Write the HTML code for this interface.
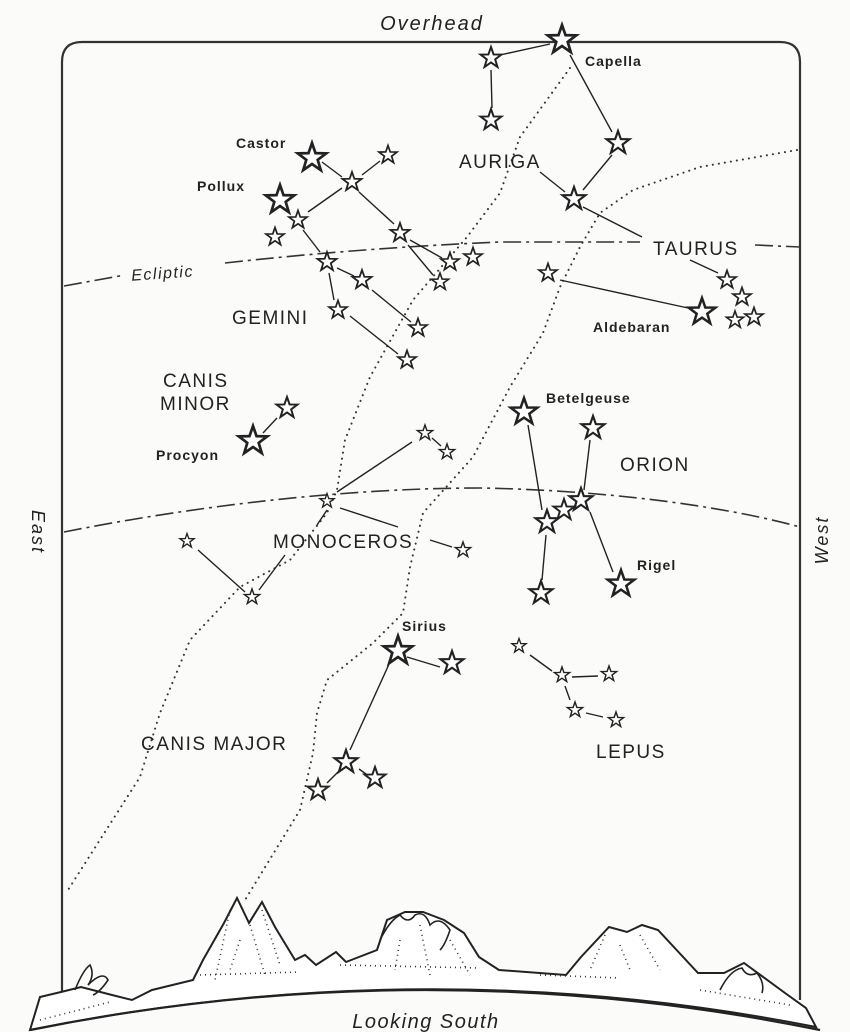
<!DOCTYPE html>
<html><head><meta charset="utf-8"><style>
html,body{margin:0;padding:0;background:#fbfbf9;}
svg{display:block}
text{font-family:"Liberation Sans",sans-serif;fill:#222;}
.l{font-size:19px;letter-spacing:1.5px}
.s{font-size:14px;letter-spacing:1px;font-weight:bold}
</style></head><body>
<svg width="850" height="1032" viewBox="0 0 850 1032" xmlns="http://www.w3.org/2000/svg">
<defs>
<path id="st" d="M0,-10 L2.35,-3.24 9.51,-3.09 3.8,1.24 5.88,8.09 0,4 -5.88,8.09 -3.8,1.24 -9.51,-3.09 -2.35,-3.24Z" fill="#fff" stroke="#222" stroke-width="1.8"/>
</defs>
<path d="M62,1000 L62,62 Q62,42 82,42 L780,42 Q800,42 800,62 L800,1000" fill="none" stroke="#333" stroke-width="2.2"/>
<g fill="none" stroke="#333" stroke-width="2" stroke-dasharray="0.1 6" stroke-linecap="round">
<path d="M570,68 L520,137 L500,193 L467,237 L413,300 L370,377 L345,440 L337,490 L327,513 L290,560 L240,587 L190,640 L160,713 L140,777 L68,890"/>
<path d="M797,150 L700,167 L633,190 L600,213 L580,247 L560,287 L543,333 L510,387 L473,457 L423,513 L410,567 L403,613 L373,643 L327,680 L317,713 L313,753 L300,810 L245,900"/>
</g>
<g fill="none" stroke="#333" stroke-width="1.6" stroke-dasharray="18 5 3 5">
<path d="M64,286 L125,275"/>
<path d="M225,263 Q360,248 500,242 L640,242"/>
<path d="M755,245 L800,247"/>
<path d="M64,532 C200,505 350,488 480,488 C600,490 720,505 800,527"/>
</g>
<g stroke="#222" stroke-width="1.4" fill="none">
<line x1="500" y1="55" x2="550" y2="44"/><line x1="491" y1="70" x2="492" y2="108"/>
<line x1="570" y1="55" x2="612" y2="132"/><line x1="612" y1="155" x2="583" y2="190"/>
<line x1="540" y1="172" x2="565" y2="192"/><line x1="583" y1="207" x2="642" y2="237"/>
<line x1="560" y1="280" x2="688" y2="308"/><line x1="690" y1="260" x2="718" y2="273"/>
<line x1="322" y1="162" x2="342" y2="177"/><line x1="362" y1="175" x2="380" y2="161"/>
<line x1="342" y1="188" x2="308" y2="212"/><line x1="359" y1="192" x2="394" y2="224"/>
<line x1="410" y1="240" x2="442" y2="258"/><line x1="408" y1="245" x2="433" y2="275"/>
<line x1="303" y1="230" x2="320" y2="252"/><line x1="337" y1="268" x2="354" y2="276"/>
<line x1="372" y1="290" x2="411" y2="322"/><line x1="329" y1="273" x2="334" y2="300"/>
<line x1="350" y1="316" x2="398" y2="354"/>
<line x1="263" y1="433" x2="277" y2="418"/>
<line x1="337" y1="492" x2="412" y2="442"/><line x1="432" y1="438" x2="441" y2="446"/>
<line x1="340" y1="508" x2="398" y2="527"/><line x1="430" y1="540" x2="452" y2="547"/>
<line x1="327" y1="510" x2="317" y2="525"/><line x1="285" y1="555" x2="259" y2="590"/>
<line x1="198" y1="550" x2="245" y2="592"/>
<line x1="528" y1="425" x2="542" y2="510"/><line x1="590" y1="440" x2="584" y2="490"/>
<line x1="590" y1="512" x2="613" y2="572"/><line x1="546" y1="535" x2="542" y2="580"/>
<line x1="407" y1="657" x2="440" y2="667"/><line x1="390" y1="662" x2="350" y2="750"/>
<line x1="340" y1="770" x2="327" y2="783"/><line x1="359" y1="769" x2="366" y2="774"/>
<line x1="530" y1="655" x2="552" y2="671"/><line x1="572" y1="677" x2="598" y2="676"/>
<line x1="565" y1="686" x2="570" y2="700"/><line x1="586" y1="713" x2="603" y2="717"/>
</g>
<g>
<use href="#st" transform="translate(562,40) scale(1.5)"/>
<use href="#st" transform="translate(491,58) scale(1.1)"/>
<use href="#st" transform="translate(491,120) scale(1.1)"/>
<use href="#st" transform="translate(618,143) scale(1.2)"/>
<use href="#st" transform="translate(574,199) scale(1.2)"/>
<use href="#st" transform="translate(548,273) scale(0.95)"/>
<use href="#st" transform="translate(702,312) scale(1.4)"/>
<use href="#st" transform="translate(727,280) scale(0.95)"/>
<use href="#st" transform="translate(742,297) scale(0.95)"/>
<use href="#st" transform="translate(735,320) scale(0.9)"/>
<use href="#st" transform="translate(754,317) scale(0.95)"/>
<use href="#st" transform="translate(312,158) scale(1.5)"/>
<use href="#st" transform="translate(388,155) scale(0.95)"/>
<use href="#st" transform="translate(352,182) scale(1.0)"/>
<use href="#st" transform="translate(280,200) scale(1.5)"/>
<use href="#st" transform="translate(298,220) scale(0.95)"/>
<use href="#st" transform="translate(275,237) scale(0.95)"/>
<use href="#st" transform="translate(400,233) scale(1.0)"/>
<use href="#st" transform="translate(327,262) scale(1.0)"/>
<use href="#st" transform="translate(362,280) scale(1.0)"/>
<use href="#st" transform="translate(450,262) scale(0.95)"/>
<use href="#st" transform="translate(473,257) scale(0.95)"/>
<use href="#st" transform="translate(440,282) scale(0.9)"/>
<use href="#st" transform="translate(338,310) scale(0.95)"/>
<use href="#st" transform="translate(418,328) scale(0.95)"/>
<use href="#st" transform="translate(407,360) scale(0.95)"/>
<use href="#st" transform="translate(287,408) scale(1.1)"/>
<use href="#st" transform="translate(253,441) scale(1.5)"/>
<use href="#st" transform="translate(425,433) scale(0.8)"/>
<use href="#st" transform="translate(447,452) scale(0.8)"/>
<use href="#st" transform="translate(327,501) scale(0.75)"/>
<use href="#st" transform="translate(187,541) scale(0.75)"/>
<use href="#st" transform="translate(252,597) scale(0.8)"/>
<use href="#st" transform="translate(463,550) scale(0.8)"/>
<use href="#st" transform="translate(524,412) scale(1.4)"/>
<use href="#st" transform="translate(593,428) scale(1.2)"/>
<use href="#st" transform="translate(581,500) scale(1.2)"/>
<use href="#st" transform="translate(564,510) scale(1.1)"/>
<use href="#st" transform="translate(547,522) scale(1.2)"/>
<use href="#st" transform="translate(541,593) scale(1.2)"/>
<use href="#st" transform="translate(621,584) scale(1.4)"/>
<use href="#st" transform="translate(398,651) scale(1.5)"/>
<use href="#st" transform="translate(452,663) scale(1.2)"/>
<use href="#st" transform="translate(346,762) scale(1.2)"/>
<use href="#st" transform="translate(375,778) scale(1.1)"/>
<use href="#st" transform="translate(318,790) scale(1.1)"/>
<use href="#st" transform="translate(519,646) scale(0.75)"/>
<use href="#st" transform="translate(562,675) scale(0.8)"/>
<use href="#st" transform="translate(609,674) scale(0.8)"/>
<use href="#st" transform="translate(575,710) scale(0.8)"/>
<use href="#st" transform="translate(616,720) scale(0.8)"/>
</g>
<text x="432" y="30" text-anchor="middle" style="font-size:20px;font-style:italic;letter-spacing:2px">Overhead</text>
<text transform="translate(32,532) rotate(90)" text-anchor="middle" style="font-size:18px;font-style:italic;letter-spacing:2px">East</text>
<text transform="translate(828,540) rotate(-90)" text-anchor="middle" style="font-size:18px;font-style:italic;letter-spacing:2px">West</text>
<text x="131" y="278" style="font-size:16px;font-style:italic;letter-spacing:1.5px" transform="rotate(-4 170 270)">Ecliptic</text>
<text class="s" x="585" y="66">Capella</text>
<text class="s" x="236" y="148">Castor</text>
<text class="s" x="197" y="191">Pollux</text>
<text class="l" x="459" y="168">AURIGA</text>
<text class="l" x="653" y="255">TAURUS</text>
<text class="s" x="593" y="332">Aldebaran</text>
<text class="l" x="232" y="324">GEMINI</text>
<text class="l" x="163" y="387">CANIS</text>
<text class="l" x="160" y="410">MINOR</text>
<text class="s" x="156" y="460">Procyon</text>
<text class="s" x="546" y="403">Betelgeuse</text>
<text class="l" x="620" y="471">ORION</text>
<text class="l" x="273" y="548">MONOCEROS</text>
<text class="s" x="637" y="570">Rigel</text>
<text class="s" x="402" y="631">Sirius</text>
<text class="l" x="141" y="750">CANIS MAJOR</text>
<text class="l" x="596" y="758">LEPUS</text>
<path d="M30,1030 L40,997 61,992 81,987 112,995 132,1000 152,990 193,980 203,960 224,923 237,898 249,923 262,902 275,927 295,960 305,955 316,965 336,952 346,962 377,950 387,920 405,912 423,912 444,920 464,933 479,957 499,970 566,975 581,957 609,927 627,932 642,925 658,930 698,973 724,973 744,963 785,993 806,1008 816,1027 Q426,950 30,1030Z" fill="#fff" stroke="#222" stroke-width="2"/>
<path d="M30,1030 Q426,950 820,1030" fill="none" stroke="#222" stroke-width="2.2"/>
<g fill="none" stroke="#333" stroke-width="1.6" stroke-dasharray="1 4">
<path d="M230,910 L215,980 M250,925 L265,975 M262,910 L280,965 M605,935 L590,970 M640,935 L660,970 M200,975 L300,972 M540,975 L620,978 M40,1020 L110,1002 M700,990 L790,1005 M240,940 L230,970 M420,925 L430,975 M400,940 L395,970 M450,940 L470,975 M620,945 L630,970 M340,965 L480,968"/>
</g>
<g fill="none" stroke="#222" stroke-width="1.6">
<path d="M75,990 q8,-20 15,-25 q5,10 -2,20 q15,-15 20,-5 q-8,12 -15,15 M380,940 q10,-20 20,-25 q8,10 15,0 q10,-5 15,10 q10,-10 20,5 q-5,15 -10,20 M720,990 q10,-20 22,-22 q5,10 15,5 q8,10 5,20"/>
</g>
<text x="426" y="1028" text-anchor="middle" style="font-size:20px;font-style:italic;letter-spacing:1.5px">Looking South</text>
</svg>
</body></html>
